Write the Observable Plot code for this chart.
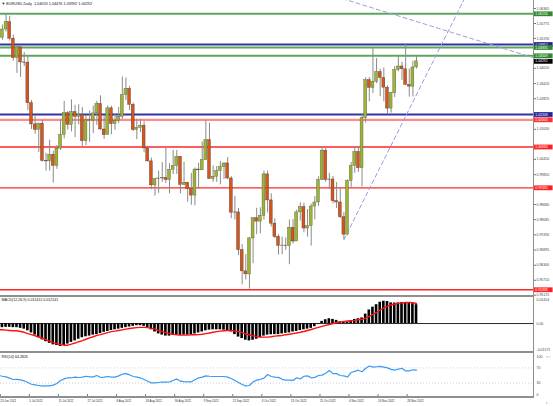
<!DOCTYPE html>
<html><head><meta charset="utf-8">
<script src="https://cdn.jsdelivr.net/npm/d3@7"></script>
<script src="https://cdn.jsdelivr.net/npm/@observablehq/plot@0.6"></script>
<style>
body{margin:0;background:#fff;}
#wrap{position:relative;width:553px;height:406px;overflow:hidden;}
.panel{position:absolute;left:0;}
.sep{position:absolute;left:0;width:534px;background:#8f8f8f;}
.vline{position:absolute;left:533px;top:0;width:1px;height:397px;background:#8f8f8f;}
</style></head><body><div id="wrap"></div>
<script>
// ---- data (bar index 0 = 23 Jun 2022, daily bars) ----
const opens  = [1.0566,1.0522,1.0554,1.0583,1.0518,1.0442,1.0484,1.0425,1.0424,1.0265,1.0182,1.0161,1.0185,1.0039,1.0037,1.0063,1.0019,1.0087,1.0141,1.0226,1.0180,1.0230,1.0212,1.0220,1.0116,1.0198,1.0197,1.0225,1.0262,1.0162,1.0140,1.0245,1.0183,1.0196,1.0212,1.0297,1.0321,1.0259,1.0160,1.0169,1.0177,1.0088,1.0037,0.9943,0.9968,0.9970,0.9972,0.9964,1.0004,1.0019,1.0055,0.9945,0.9953,0.9928,0.9903,1.0005,1.0002,1.0042,1.0120,0.9968,0.9977,0.9999,1.0015,1.0029,0.9970,0.9836,0.9837,0.9689,0.9606,0.9594,0.9735,0.9814,0.9801,0.9824,0.9986,0.9884,0.9793,0.9741,0.9706,0.9707,0.9705,0.9777,0.9723,0.9837,0.9858,0.9774,0.9783,0.9860,0.9876,0.9964,1.0079,0.9964,0.9966,0.9881,0.9876,0.9818,0.9750,0.9960,1.0019,1.0074,1.0010,1.0207,1.0355,1.0325,1.0349,1.0387,1.0364,1.0326,1.0244,1.0304,1.0395,1.0409,1.0398,1.0337,1.0330,1.04053];
const highs  = [1.0580,1.0572,1.0615,1.0606,1.0532,1.0487,1.0486,1.0464,1.0448,1.0276,1.0216,1.0187,1.0198,1.0069,1.0120,1.0077,1.0099,1.0200,1.0273,1.0232,1.0278,1.0257,1.0259,1.0248,1.0218,1.0235,1.0254,1.0273,1.0294,1.0213,1.0254,1.0253,1.0222,1.0248,1.0368,1.0364,1.0331,1.0265,1.0202,1.0202,1.0192,1.0096,1.0050,0.9968,0.9999,1.0032,1.0090,1.0028,1.0080,1.0080,1.0055,1.0034,0.9955,0.9990,1.0011,1.0030,1.0113,1.0198,1.0187,1.0019,1.0017,1.0037,1.0029,1.0052,0.9977,0.9900,0.9852,0.9711,0.9671,0.9739,0.9815,0.9853,0.9855,0.9999,0.9999,0.9910,0.9812,0.9749,0.9740,0.9737,0.9807,0.9809,0.9846,0.9875,0.9873,0.9848,0.9870,0.9899,0.9977,1.0094,1.0088,0.9990,0.9978,0.9954,0.9935,0.9836,0.9965,1.0033,1.0093,1.0096,1.0222,1.0365,1.0366,1.0481,1.0440,1.0398,1.0403,1.0333,1.0308,1.0409,1.0448,1.0426,1.0497,1.0399,1.0429,1.04476];
const lows   = [1.0475,1.0512,1.0544,1.0509,1.0430,1.0382,1.0366,1.0409,1.0236,1.0162,1.0143,1.0072,1.0034,0.9999,0.9999,0.9952,1.0006,1.0080,1.0125,1.0160,1.0153,1.0130,1.0180,1.0096,1.0099,1.0112,1.0146,1.0178,1.0160,1.0123,1.0141,1.0141,1.0159,1.0185,1.0202,1.0275,1.0236,1.0154,1.0122,1.0150,1.0071,1.0034,0.9926,0.9901,0.9912,0.9955,0.9950,0.9910,0.9985,0.9986,0.9910,0.9942,0.9877,0.9865,0.9863,0.9930,1.0002,1.0042,0.9966,0.9955,0.9955,0.9945,0.9966,0.9965,0.9812,0.9807,0.9668,0.9553,0.9572,0.9536,0.9636,0.9750,0.9753,0.9807,0.9835,0.9780,0.9734,0.9670,0.9671,0.9688,0.9632,0.9713,0.9723,0.9803,0.9757,0.9740,0.9705,0.9808,0.9860,0.9963,0.9955,0.9928,0.9871,0.9852,0.9813,0.9730,0.9746,0.9935,0.9990,0.9994,0.9937,1.0187,1.0270,1.0303,1.0342,1.0291,1.0271,1.0223,1.0226,1.0287,1.0388,1.0355,1.0334,1.0289,1.0290,1.03992];
const closes = [1.0522,1.0554,1.0583,1.0518,1.0442,1.0484,1.0425,1.0424,1.0265,1.0182,1.0161,1.0185,1.0039,1.0037,1.0063,1.0019,1.0087,1.0141,1.0226,1.0180,1.0230,1.0212,1.0220,1.0116,1.0198,1.0197,1.0225,1.0262,1.0162,1.0140,1.0245,1.0183,1.0196,1.0212,1.0297,1.0321,1.0259,1.0160,1.0169,1.0177,1.0088,1.0037,0.9943,0.9968,0.9970,0.9972,0.9964,1.0004,1.0019,1.0055,0.9945,0.9953,0.9928,0.9903,1.0005,1.0002,1.0042,1.0120,0.9968,0.9977,0.9999,1.0015,1.0029,0.9970,0.9836,0.9837,0.9689,0.9606,0.9594,0.9735,0.9814,0.9801,0.9824,0.9986,0.9884,0.9793,0.9741,0.9706,0.9707,0.9705,0.9777,0.9723,0.9837,0.9858,0.9774,0.9783,0.9860,0.9876,0.9964,1.0079,0.9964,0.9966,0.9881,0.9876,0.9818,0.9750,0.9960,1.0019,1.0074,1.0010,1.0207,1.0355,1.0325,1.0349,1.0387,1.0364,1.0326,1.0244,1.0304,1.0395,1.0409,1.0398,1.0337,1.0330,1.0405,1.04292];

const macdMain = [-0.0025,-0.0025,-0.0023,-0.0023,-0.0025,-0.0025,-0.0029,-0.0034,-0.0044,-0.0057,-0.0070,-0.0086,-0.0099,-0.0110,-0.0120,-0.0129,-0.0133,-0.0139,-0.0133,-0.0124,-0.0114,-0.0105,-0.0095,-0.0086,-0.0080,-0.0076,-0.0070,-0.0067,-0.0061,-0.0053,-0.0048,-0.0042,-0.0038,-0.0034,-0.0029,-0.0025,-0.0021,-0.0017,-0.0013,-0.0013,-0.0017,-0.0025,-0.0038,-0.0051,-0.0063,-0.0070,-0.0076,-0.0076,-0.0072,-0.0070,-0.0072,-0.0070,-0.0070,-0.0068,-0.0063,-0.0057,-0.0051,-0.0044,-0.0040,-0.0038,-0.0038,-0.0038,-0.0040,-0.0044,-0.0051,-0.0067,-0.0082,-0.0091,-0.0101,-0.0105,-0.0101,-0.0095,-0.0086,-0.0076,-0.0070,-0.0068,-0.0067,-0.0067,-0.0063,-0.0059,-0.0057,-0.0051,-0.0048,-0.0042,-0.0038,-0.0034,-0.0029,-0.0019,-0.0006,0.0013,0.0023,0.0029,0.0025,0.0019,0.0010,0.0006,0.0010,0.0017,0.0025,0.0029,0.0034,0.0057,0.0082,0.0099,0.0114,0.0129,0.0135,0.0133,0.0125,0.0124,0.0125,0.0127,0.0127,0.0124,0.0120,0.011412];
const macdSignal = [-0.0038,-0.0038,-0.0040,-0.0042,-0.0044,-0.0044,-0.0048,-0.0053,-0.0061,-0.0067,-0.0074,-0.0082,-0.0089,-0.0099,-0.0108,-0.0116,-0.0122,-0.0127,-0.0131,-0.0131,-0.0125,-0.0118,-0.0110,-0.0103,-0.0095,-0.0087,-0.0080,-0.0072,-0.0067,-0.0061,-0.0055,-0.0049,-0.0046,-0.0042,-0.0038,-0.0034,-0.0030,-0.0027,-0.0025,-0.0023,-0.0023,-0.0025,-0.0029,-0.0034,-0.0042,-0.0049,-0.0055,-0.0061,-0.0065,-0.0068,-0.0070,-0.0070,-0.0070,-0.0068,-0.0068,-0.0067,-0.0065,-0.0061,-0.0057,-0.0053,-0.0049,-0.0046,-0.0044,-0.0042,-0.0042,-0.0046,-0.0049,-0.0055,-0.0063,-0.0068,-0.0074,-0.0078,-0.0082,-0.0082,-0.0082,-0.0080,-0.0076,-0.0074,-0.0072,-0.0068,-0.0065,-0.0061,-0.0057,-0.0053,-0.0048,-0.0042,-0.0036,-0.0029,-0.0023,-0.0017,-0.0011,-0.0006,0.0000,0.0006,0.0010,0.0013,0.0015,0.0017,0.0019,0.0023,0.0027,0.0032,0.0044,0.0055,0.0067,0.0082,0.0095,0.0105,0.0112,0.0118,0.0122,0.0125,0.0127,0.0128,0.0126,0.012141];
const rsiValues = [50,48,46.5,43,39.5,40,38.6,36,31.6,27,25.4,23.7,22,22.8,22.8,24.6,29,36.8,41,44,44,45.6,44.7,45.6,48,46.5,46.5,50,44.7,45.6,47.4,45.6,45.6,49,53.5,55,51.8,47.4,45.6,43.9,39.5,35,30.7,30.7,31.6,32.5,32.5,33.3,36.8,41,35,34,33.3,33.3,38.6,43.9,45.6,49,48,47.4,47.4,47.4,47.4,45.6,42,36.8,31.6,26.3,22.8,23.7,33.3,37.7,40,43,52.6,47.4,45.6,45,40,38,38,37,44,41,48,49,44,45,50,51,56,63,55,55,50,49,46,58,61,64,60,69,75,72,73,74,72,70,66,64,67,69,62,62,65,64.2826];

const levelPrices = [1.06156,1.04952,1.04835,1.04509,1.02208,1.02000,1.00934,0.99335,0.95338];
const levelKinds  = ["green","blue","green","green","blue","pink","red","red","red"];

const trendUp   = [{i:95, p:0.9730},{i:130.7, p:1.0746}];
const trendDown = [{i:87.33, p:1.07069},{i:147.2, p:1.04435}];

// price-axis labels that are visible (the others sit under the level labels)
const priceTicks = [1.06365,1.05775,1.05190,1.04020,1.03420,1.02825,1.01630,1.00450,0.99850,0.98680,0.98085,0.97490,0.96895,0.96300,0.95710,0.95125];
const dateTickBars  = [0,8,16,24,32,40,48,56,64,72,80,88,96,104,112];
const dateTickLabels = ["23 Jun 2022","5 Jul 2022","15 Jul 2022","27 Jul 2022","8 Aug 2022","18 Aug 2022","30 Aug 2022","9 Sep 2022","21 Sep 2022","3 Oct 2022","13 Oct 2022","25 Oct 2022","4 Nov 2022","16 Nov 2022","28 Nov 2022"];
const macdTicks = [0.01454, 0, -0.01571];
const rsiTicks = [100, 70, 30, 0];
const rsiLevels = [70, 30];

const titleText = "\u25BC EURUSD,Daily  1.04053 1.04476 1.03992 1.04292";
const macdText = "MACD(12,26,9) 0.011412 0.012141";
const rsiText = "RSI(14) 64.2826";

// ---- build ----
const N = closes.length;
const bars = d3.range(N).map(i => ({i, o: opens[i], h: highs[i], l: lows[i], c: closes[i], m: macdMain[i], s: macdSignal[i], r: rsiValues[i]}));
const levels = levelPrices.map((p, k) => ({p, kind: levelKinds[k]}));
const xDomain = [0.47, 147.2];
const xR = xDomain[1];
const FONT = "Liberation Sans, Arial, sans-serif";
const colors = {green:"#5ea65e", blue:"#3434a4", pink:"#ff8a8a", red:"#ff2626"};
const widths = {green:2, blue:2, pink:2.2, red:1.3};
const boxColors = {green:"#2f8a2f", blue:"#24249a", pink:"#ff3030", red:"#ff2020"};
const bull = "#9ab536", bear = "#d2561e";
const dateMap = new Map(dateTickBars.map((b, k) => [b, dateTickLabels[k]]));

const wrap = document.getElementById("wrap");
function place(el, top) { el.classList.add("panel"); el.style.top = top + "px"; wrap.appendChild(el); }

const levelMarks = [];
for (const kind of ["green","blue","pink","red"]) {
  const sub = levels.filter(d => d.kind === kind);
  levelMarks.push(Plot.ruleY(sub, {y: "p", stroke: colors[kind], strokeWidth: widths[kind]}));
}
const labelMarks = [];
for (const kind of ["blue","green","pink","red"]) {
  const sub = levels.filter(d => d.kind === kind);
  labelMarks.push(Plot.ruleY(sub, {y: "p", x1: xR + 0.1, x2: xR + 5.4, stroke: boxColors[kind], strokeWidth: 4.8}));
  labelMarks.push(Plot.text(sub, {x: xR, y: "p", text: d => d.p.toFixed(5), dx: 1.8, textAnchor: "start", fill: "white", fontSize: 3.4}));
}
const last = bars[N - 1];

const main = Plot.plot({
  width: 553, height: 295,
  marginLeft: 0, marginRight: 20, marginTop: 0, marginBottom: 0,
  x: {domain: xDomain, axis: null},
  y: {domain: [0.95113, 1.06677], axis: null},
  style: {fontFamily: FONT, fontSize: "3.6px", background: "transparent", overflow: "visible"},
  marks: [
    Plot.axisY(priceTicks, {anchor: "right", tickSize: 2, tickPadding: 1, tickFormat: d => d.toFixed(5), fill: "#444", stroke: "#777", fontSize: 3.5}),
    ...levelMarks,
    Plot.line(trendUp, {x: "i", y: "p", stroke: "#9c9ce0", strokeWidth: 1, strokeDasharray: "4,3", clip: true}),
    Plot.line(trendDown, {x: "i", y: "p", stroke: "#9c9ce0", strokeWidth: 1, strokeDasharray: "4,3", clip: true}),
    Plot.ruleX(bars, {x: "i", y1: "l", y2: "h", stroke: "#8a8a8a", strokeWidth: 1}),
    Plot.rect(bars.filter(d => d.c >= d.o), {x1: d => d.i - 0.4, x2: d => d.i + 0.4, y1: "o", y2: "c", fill: bull, stroke: "#5a5a3a", strokeWidth: 0.4}),
    Plot.rect(bars.filter(d => d.c < d.o), {x1: d => d.i - 0.4, x2: d => d.i + 0.4, y1: "o", y2: "c", fill: bear, stroke: "#5a3a2a", strokeWidth: 0.4}),
    ...labelMarks,
    Plot.ruleY([last], {y: "c", x1: xR + 0.1, x2: xR + 5.4, stroke: "#000", strokeWidth: 4.8}),
    Plot.text([last], {x: xR, y: "c", text: d => d.c.toFixed(5), dx: 1.8, textAnchor: "start", fill: "white", fontSize: 3.4}),
    Plot.text([titleText], {frameAnchor: "top-left", dx: 1, dy: 2, fontSize: 3.8, fill: "#111"})
  ]
});
place(main, 0);

const macd = Plot.plot({
  width: 553, height: 57,
  marginLeft: 0, marginRight: 20, marginTop: 4, marginBottom: 3,
  x: {domain: xDomain, axis: null},
  y: {domain: [-0.01571, 0.01454], axis: null},
  style: {fontFamily: FONT, fontSize: "3.6px", background: "transparent", overflow: "visible"},
  marks: [
    Plot.axisY(macdTicks, {anchor: "right", tickSize: 0, tickPadding: 3, tickFormat: d => d === 0 ? "0.00" : d.toFixed(5), fill: "#444", fontSize: 3.5}),
    Plot.rect(bars, {x1: d => d.i - 0.36, x2: d => d.i + 0.36, y1: 0, y2: "m", fill: "#000"}),
    Plot.ruleY([0], {stroke: "#111", strokeWidth: 0.9}),
    Plot.line(bars, {x: "i", y: "s", stroke: "#ff1010", strokeWidth: 1.4}),
    Plot.text([macdText], {frameAnchor: "top-left", dx: 1, dy: -1, fontSize: 3.6, fill: "#111"})
  ]
});
place(macd, 295);

const rsi = Plot.plot({
  width: 553, height: 54,
  marginLeft: 0, marginRight: 20, marginTop: 4, marginBottom: 12,
  x: {domain: xDomain, axis: null},
  y: {domain: [0, 100], axis: null},
  style: {fontFamily: FONT, fontSize: "3px", background: "transparent", overflow: "visible"},
  marks: [
    Plot.axisY(rsiTicks, {anchor: "right", tickSize: 0, tickPadding: 3, fill: "#444", fontSize: 3.5}),
    Plot.ruleY(rsiLevels, {stroke: "#b0b0b0", strokeWidth: 0.6, strokeDasharray: "1,2"}),
    Plot.line(bars, {x: "i", y: "r", stroke: "#3a9af5", strokeWidth: 1.2}),
    Plot.axisX(dateTickBars, {anchor: "bottom", tickSize: 4, tickPadding: 1, tickFormat: d => dateMap.get(d), textAnchor: "start", dx: 1.5, dy: 0, fill: "#333", stroke: "#777", fontSize: 2.9}),
    Plot.text([rsiText], {frameAnchor: "top-left", dx: 1, dy: -1, fontSize: 3.6, fill: "#111"})
  ]
});
place(rsi, 352);

for (const [top, h] of [[295, 2], [351, 1.5], [396, 1.5]]) {
  const s = document.createElement("div"); s.className = "sep"; s.style.top = top + "px"; s.style.height = h + "px"; wrap.appendChild(s);
}
const v = document.createElement("div"); v.className = "vline"; wrap.appendChild(v);
</script></body></html>
